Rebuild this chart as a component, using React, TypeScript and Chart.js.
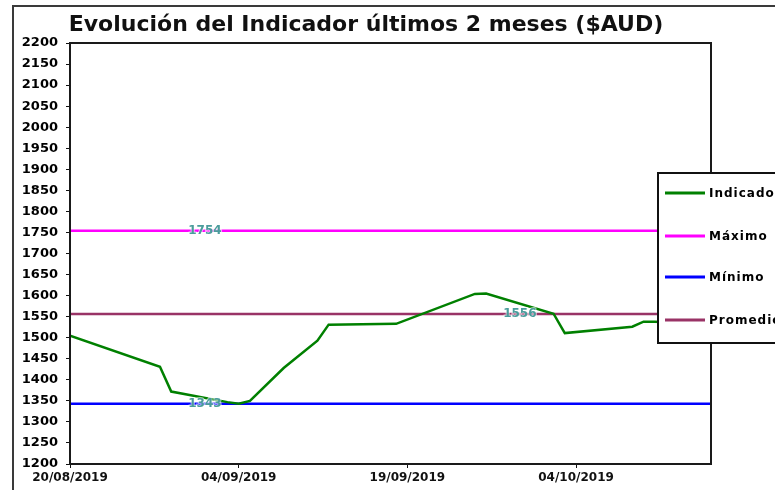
import React, { useEffect, useRef } from 'react';
import { Chart, registerables } from 'chart.js';

Chart.register(...registerables);

// ---------- data ----------
const TITLE = 'Evolución del Indicador últimos 2 meses ($AUD)';
const START_DATE = '20/08/2019';
const END_DATE = '16/10/2019';

const dates = [
  '20/08/2019', '28/08/2019', '29/08/2019', '03/09/2019', '04/09/2019',
  '05/09/2019', '08/09/2019', '11/09/2019', '12/09/2019', '18/09/2019',
  '25/09/2019', '26/09/2019', '02/10/2019', '03/10/2019', '09/10/2019',
  '10/10/2019', '11/10/2019', '14/10/2019',
];
const indicador = [
  1505, 1431, 1372, 1347, 1343,
  1350, 1428, 1493, 1531, 1533,
  1604, 1605, 1557, 1511, 1526,
  1538, 1538, 1535,
];

const maximo = 1754;
const minimo = 1343;
const promedio = 1556;

const seriesNames = ['Indicador', 'Máximo', 'Mínimo', 'Promedio'];
const seriesColors = ['#008000', '#FF00FF', '#0000FF', '#993366'];

const Y_MIN = 1200;
const Y_MAX = 2200;
const Y_STEP = 50;
const X_STEP_DAYS = 15;

// ---------- helpers ----------
const DAY = 86400000;
function parseDate(s: string): number {
  const [d, m, y] = s.split('/').map(Number);
  return Date.UTC(y, m - 1, d);
}
const base = parseDate(START_DATE);
function dayOffset(s: string): number {
  return Math.round((parseDate(s) - base) / DAY);
}
function fmtDate(off: number): string {
  const t = new Date(base + off * DAY);
  const dd = String(t.getUTCDate()).padStart(2, '0');
  const mm = String(t.getUTCMonth() + 1).padStart(2, '0');
  return `${dd}/${mm}/${t.getUTCFullYear()}`;
}
const xMax = dayOffset(END_DATE);

const FONT = '"DejaVu Sans", Verdana, sans-serif';

const decorPlugin = {
  id: 'decor',
  beforeDraw(chart: any) {
    const { ctx, width, height } = chart;
    ctx.save();
    ctx.fillStyle = '#ffffff';
    ctx.fillRect(0, 0, width, height);
    // outer frame
    ctx.strokeStyle = '#3a3a3a';
    ctx.lineWidth = 2;
    ctx.beginPath();
    ctx.moveTo(13, height + 5);
    ctx.lineTo(13, 6);
    ctx.lineTo(width + 5, 6);
    ctx.stroke();
    // title
    ctx.fillStyle = '#111';
    ctx.font = `bold 22px ${FONT}`;
    ctx.textAlign = 'center';
    ctx.textBaseline = 'alphabetic';
    ctx.fillText(TITLE, 366, 31);
    ctx.restore();
  },
  afterDatasetsDraw(chart: any) {
    const { ctx, chartArea } = chart;
    const xs = chart.scales.x;
    const ys = chart.scales.y;
    ctx.save();
    // value labels
    const labels = [
      { v: maximo, day: 12 },
      { v: minimo, day: 12 },
      { v: promedio, day: 40 },
    ];
    ctx.font = `bold 12px ${FONT}`;
    ctx.textAlign = 'center';
    ctx.textBaseline = 'middle';
    labels.forEach((l) => {
      const px = xs.getPixelForValue(l.day);
      const py = ys.getPixelForValue(l.v);
      ctx.lineWidth = 2;
      ctx.strokeStyle = 'rgba(255,255,255,0.6)';
      ctx.strokeText(String(l.v), px, py);
      ctx.fillStyle = '#4a9c9c';
      ctx.fillText(String(l.v), px, py);
    });
    // plot border
    ctx.strokeStyle = '#1a1a1a';
    ctx.lineWidth = 2;
    ctx.strokeRect(chartArea.left, chartArea.top, chartArea.right - chartArea.left, chartArea.bottom - chartArea.top);
    ctx.restore();
  },
  afterDraw(chart: any) {
    const { ctx, width } = chart;
    ctx.save();
    // legend box
    const lx = 658, ly = 173, lb = 343;
    ctx.fillStyle = '#ffffff';
    ctx.fillRect(lx, ly, width - lx + 10, lb - ly);
    ctx.strokeStyle = '#111';
    ctx.lineWidth = 2;
    ctx.strokeRect(lx, ly, width - lx + 10, lb - ly);
    const rows = [193, 236, 277, 320];
    ctx.font = `bold 12px ${FONT}`;
    (ctx as any).letterSpacing = '1px';
    ctx.textAlign = 'left';
    ctx.textBaseline = 'middle';
    seriesNames.forEach((name, i) => {
      ctx.strokeStyle = seriesColors[i];
      ctx.lineWidth = 3;
      ctx.beginPath();
      ctx.moveTo(665, rows[i]);
      ctx.lineTo(705, rows[i]);
      ctx.stroke();
      ctx.fillStyle = '#000';
      ctx.fillText(name, 709, rows[i] + 1);
    });
    ctx.restore();
  },
};

export default function App() {
  const ref = useRef<HTMLCanvasElement | null>(null);

  useEffect(() => {
    if (!ref.current) return;
    const xs = dates.map(dayOffset);
    const flat = (v: number) => [
      { x: 0, y: v },
      { x: xMax, y: v },
    ];
    const chart = new Chart(ref.current, {
      type: 'line',
      data: {
        datasets: [
          {
            label: seriesNames[0],
            data: xs.map((x, i) => ({ x, y: indicador[i] })),
            borderColor: seriesColors[0],
            borderWidth: 2.5,
            pointRadius: 0,
            tension: 0,
          },
          {
            label: seriesNames[1],
            data: flat(maximo),
            borderColor: seriesColors[1],
            borderWidth: 2.5,
            pointRadius: 0,
          },
          {
            label: seriesNames[2],
            data: flat(minimo),
            borderColor: seriesColors[2],
            borderWidth: 2.5,
            pointRadius: 0,
          },
          {
            label: seriesNames[3],
            data: flat(promedio),
            borderColor: seriesColors[3],
            borderWidth: 2.5,
            pointRadius: 0,
          },
        ],
      },
      options: {
        responsive: false,
        animation: false,
        events: [],
        layout: { padding: { left: 0, top: 43, right: 64, bottom: 0 } },
        plugins: {
          legend: { display: false },
          title: { display: false },
          tooltip: { enabled: false },
        },
        scales: {
          x: {
            type: 'linear',
            min: 0,
            max: xMax,
            afterFit: (s: any) => { s.height = 26; },
            border: { display: false },
            grid: { display: true, drawOnChartArea: false, drawTicks: true, tickLength: 4, color: '#111', lineWidth: 1 },
            ticks: {
              stepSize: X_STEP_DAYS,
              includeBounds: false,
              autoSkip: false,
              maxRotation: 0,
              padding: 3,
              color: '#111',
              font: { family: FONT, size: 12, weight: 'bold' },
              callback: (v: any) => fmtDate(Number(v)),
            },
          },
          y: {
            type: 'linear',
            min: Y_MIN,
            max: Y_MAX,
            afterFit: (s: any) => { s.width = 70; },
            border: { display: false },
            grid: { display: true, drawOnChartArea: false, drawTicks: true, tickLength: 4, color: '#111', lineWidth: 1 },
            ticks: {
              stepSize: Y_STEP,
              autoSkip: false,
              padding: 8,
              color: '#000',
              font: { family: FONT, size: 13, weight: 'bold' },
              callback: (v: any) => String(v),
            },
          },
        },
      },
      plugins: [decorPlugin],
    } as any);
    return () => chart.destroy();
  }, []);

  return (
    <div style={{ position: 'fixed', left: 0, top: 0, width: 775, height: 490 }}>
      <canvas ref={ref} width={775} height={490} style={{ display: 'block' }} />
    </div>
  );
}
